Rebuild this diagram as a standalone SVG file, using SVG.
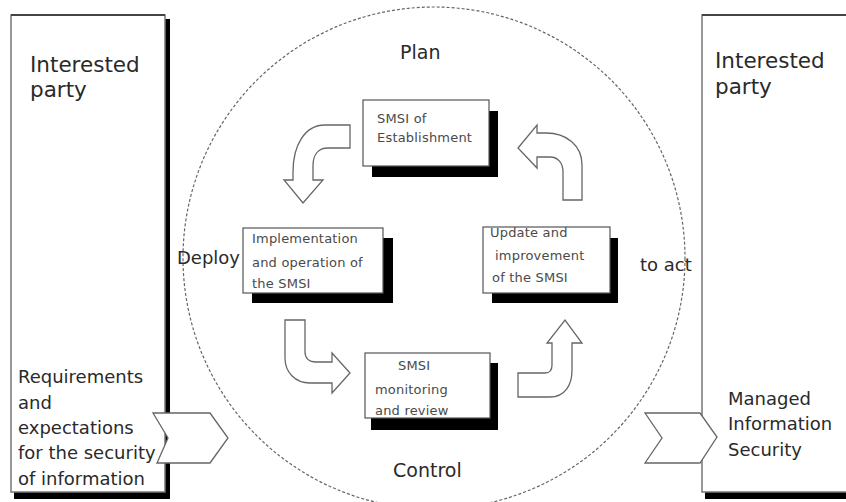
<svg xmlns="http://www.w3.org/2000/svg" width="846" height="502" viewBox="0 0 846 502">
<style>
  .t{font-family:"DejaVu Sans","Liberation Sans",sans-serif;fill:#2a2a2a}
  .big{font-size:21.5px}
  .mid{font-size:18px}
  .lab{font-size:19px}
  .sm{font-family:"DejaVu Sans","Liberation Sans",sans-serif;font-size:13px;fill:#4a4a4a;letter-spacing:0.2px}
  .frame{fill:#fff;stroke:#777;stroke-width:1.5}
  .shadow{fill:#000}
  .ibox{fill:#fff;stroke:#555;stroke-width:1.2}
  .bend{fill:#fff;stroke:#666;stroke-width:1.3;stroke-linejoin:miter}
  .chev{fill:#fff;stroke:#666;stroke-width:1.3}
</style>
<rect x="0" y="0" width="846" height="502" fill="#fff"/>
<circle id="cycle" cx="434" cy="258" r="251" fill="none" stroke="#666" stroke-width="1.2" stroke-dasharray="3 2"/>

<g id="party-left">
  <rect class="shadow" x="165" y="19" width="5" height="480"/>
  <rect class="shadow" x="14" y="492" width="156" height="7"/>
  <rect class="frame" x="11" y="15" width="154" height="477"/>
  <line x1="11" y1="15" x2="165" y2="15" stroke="#444" stroke-width="2"/>
  <text class="t big" x="30" y="72">Interested</text>
  <text class="t big" x="30" y="97">party</text>
</g>

<g id="party-right">
  <rect class="shadow" x="705" y="492" width="150" height="7"/>
  <rect class="frame" x="702" y="15" width="160" height="477"/>
  <line x1="702" y1="15" x2="846" y2="15" stroke="#444" stroke-width="2"/>
  <text class="t big" x="715" y="68">Interested</text>
  <text class="t big" x="715" y="94">party</text>
</g>

<g id="connectors">
  <polygon class="chev" points="153,413 210,413 228,438 210,463 157,463 168,438"/>
  <polygon class="chev" points="645,413 700,413 717,437 700,463 645,463 662,438"/>
  <path class="bend" d="M350,125 L325,125 C305,125 293,145 293,172 L293,180 L284,180 L303,203 L323,180 L313,180 L313,166 C313,155 318,148 328,148 L350,148 Z"/>
  <path class="bend" d="M563,200 L582,200 L582,165 C582,145 566,133 546,133 L537,133 L537,125 L518,148 L537,168 L537,157 L550,157 C558,157 563,163 563,172 Z"/>
  <path class="bend" d="M285,320 L305,320 L305,352 C305,358 309,362 316,362 L332,362 L332,353 L350,373 L332,393 L332,383 L310,383 C295,383 285,372 285,358 Z"/>
  <path class="bend" d="M518,373 L545,373 C550,373 552,370 552,365 L552,343 L547,343 L565,320 L582,343 L572,343 L572,370 C572,385 565,397 550,397 L518,397 Z"/>
</g>

<g id="input-label">
  <text class="t mid" x="18" y="383">Requirements</text>
  <text class="t mid" x="18" y="409">and</text>
  <text class="t mid" x="18" y="434">expectations</text>
  <text class="t mid" x="18" y="459">for the security</text>
  <text class="t mid" x="18" y="485">of information</text>
</g>

<g id="output-label">
  <text class="t mid" x="728" y="405">Managed</text>
  <text class="t mid" x="728" y="430">Information</text>
  <text class="t mid" x="728" y="456">Security</text>
</g>

<g id="plan-box">
  <rect class="shadow" x="372" y="111" width="126" height="66"/>
  <rect class="ibox" x="363" y="100" width="126" height="66"/>
  <text class="sm" x="377" y="123">SMSI of</text>
  <text class="sm" x="377" y="142">Establishment</text>
</g>

<g id="do-box">
  <rect class="shadow" x="252" y="238" width="141" height="65"/>
  <rect class="ibox" x="243" y="228" width="140" height="65"/>
  <text class="sm" x="252" y="243">Implementation</text>
  <text class="sm" x="252" y="267">and operation of</text>
  <text class="sm" x="252" y="288">the SMSI</text>
</g>

<g id="act-box">
  <rect class="shadow" x="492" y="238" width="126" height="65"/>
  <rect class="ibox" x="483" y="227" width="127" height="66"/>
  <text class="sm" x="490" y="237">Update and</text>
  <text class="sm" x="495" y="260">improvement</text>
  <text class="sm" x="492" y="282">of the SMSI</text>
</g>

<g id="check-box">
  <rect class="shadow" x="371" y="363" width="127" height="67"/>
  <rect class="ibox" x="365" y="353" width="125" height="65"/>
  <text class="sm" x="398" y="370">SMSI</text>
  <text class="sm" x="375" y="394">monitoring</text>
  <text class="sm" x="375" y="415">and review</text>
</g>

<g id="phase-labels">
  <text class="t lab" x="400" y="59">Plan</text>
  <text class="t lab" x="393" y="477">Control</text>
  <text class="t mid" x="177" y="264">Deploy</text>
  <text class="t mid" x="640" y="271">to act</text>
</g>
</svg>
